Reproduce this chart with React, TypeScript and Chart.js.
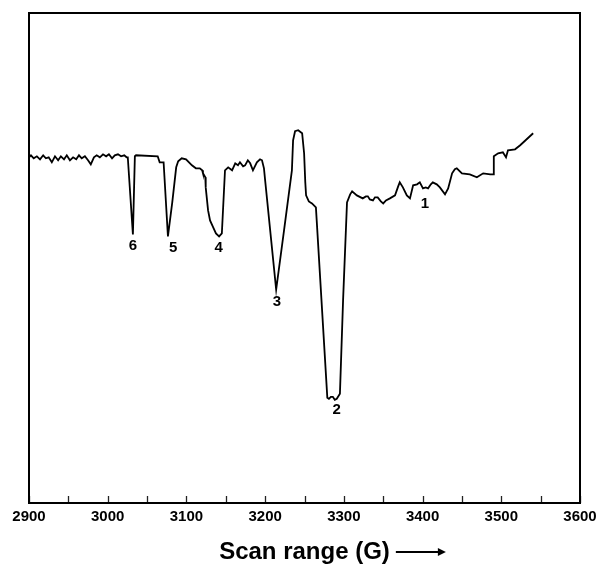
import { useEffect, useRef } from "react";
import { Chart, registerables } from "chart.js";

Chart.register(...registerables);

// Magnetic field (G)
const fieldG = [
  2900, 2902.5, 2906, 2910, 2914, 2918, 2921.5, 2925, 2929, 2933, 2937, 2940.5, 2944.5, 2948, 2952, 2956,
  2960, 2963.5, 2967, 2971, 2975, 2978.5, 2982.5, 2986, 2990, 2994, 2998, 3001.5, 3005.5, 3009, 3013, 3017,
  3021, 3024, 3025.5, 3032, 3034.5, 3036, 3063.5, 3066, 3070, 3071, 3076.5, 3082, 3087, 3089.5, 3094,
  3099.5, 3107, 3112, 3117, 3120, 3121, 3124, 3124.5, 3127.5, 3130, 3134, 3137.5, 3141.5, 3145, 3149,
  3153, 3158, 3162, 3165.5, 3168, 3172, 3174.5, 3178, 3181, 3184.5, 3189.5, 3193.5, 3196, 3198.5, 3200,
  3214, 3224, 3234, 3235.5, 3238, 3242, 3247, 3249.5, 3251, 3252, 3255.5, 3259.5, 3264.5, 3265.5, 3279,
  3281, 3283.5, 3286, 3288.5, 3291, 3295, 3299, 3304, 3308, 3310.5, 3316.5, 3324, 3328, 3330.5, 3333,
  3337, 3339.5, 3343, 3347, 3350, 3353.5, 3358.5, 3365, 3369, 3371, 3375, 3380, 3384, 3388, 3393,
  3396.5, 3400.5, 3404, 3407, 3410.5, 3413, 3418, 3422, 3428.5, 3432.5, 3437.5, 3441, 3443.5, 3450,
  3460, 3469, 3477, 3486, 3489.5, 3490.5, 3496, 3502, 3506, 3508.5, 3517.5, 3524, 3540.5,
];

// EPR signal (arbitrary units)
const signal = [
  345, 347, 344, 346, 343, 347, 344, 345, 340, 346, 342, 346, 343, 347, 342, 345,
  343, 347, 344, 346, 342, 338, 345, 347, 345, 348, 346, 348, 344, 347, 348, 346,
  347, 345, 345, 268, 346, 347, 346, 340, 340, 340, 266, 300, 335, 341, 344,
  343, 337, 334, 334, 332, 329, 325, 315, 292, 282, 275, 269, 266, 269, 332,
  335, 332, 339, 337, 340, 336, 337, 342, 339, 332, 340, 343, 342, 334, 322,
  213, 272, 332, 362, 371, 372, 369, 349, 320, 307, 301, 299, 295, 282, 105,
  104, 106, 106, 103, 104, 109, 202, 300, 308, 311, 307, 304, 306, 306, 303,
  302, 305, 305, 301, 299, 302, 304, 307, 316, 320, 315, 307, 304, 317, 318,
  320, 314, 315, 314, 318, 320, 318, 315, 308, 314, 329, 333, 334, 329,
  328, 325, 329, 328, 328, 346, 349, 350, 345, 352, 353, 357, 369,
];

// Peak annotations
const peakNames = ["1", "2", "3", "4", "5", "6"];
const peakLabelG = [3403, 3291, 3215, 3141, 3083, 3032];
const peakLabelV = [299, 93, 201, 255, 255, 257];

// Axis
const xMin = 2900;
const xMax = 3600;
const xStep = 50;
const yMin = 0;
const yMax = 489;
const xTitle = "Scan range (G)";

const FONT = "'Liberation Sans', Arial, Helvetica, sans-serif";

const decorPlugin = {
  id: "decor",
  afterDatasetsDraw(chart: any) {
    const { ctx, chartArea, scales } = chart;
    const { left, right, top, bottom } = chartArea;
    const xs = scales.x;
    const ys = scales.y;
    ctx.save();
    // inward tick marks
    ctx.strokeStyle = "#222";
    ctx.lineWidth = 1.3;
    xs.ticks.forEach((t: any) => {
      const px = Math.round(xs.getPixelForValue(t.value)) + 0.5;
      ctx.beginPath();
      ctx.moveTo(px, bottom);
      ctx.lineTo(px, bottom - 7);
      ctx.stroke();
    });
    // frame
    ctx.strokeStyle = "#000";
    ctx.lineWidth = 2;
    ctx.strokeRect(left, top, right - left, bottom - top);
    // peak labels
    ctx.fillStyle = "#000";
    ctx.font = `bold 15px ${FONT}`;
    ctx.textAlign = "center";
    ctx.textBaseline = "middle";
    peakNames.forEach((n, i) => {
      ctx.fillText(n, xs.getPixelForValue(peakLabelG[i]), ys.getPixelForValue(peakLabelV[i]));
    });
    // arrow after the axis title
    ctx.font = `bold 24px ${FONT}`;
    const w = ctx.measureText(xTitle).width;
    const cx = (left + right) / 2;
    const ay = xs.bottom - 12;
    const x0 = cx + w / 2 + 6;
    const x1 = x0 + 50;
    ctx.lineWidth = 2;
    ctx.beginPath();
    ctx.moveTo(x0, ay);
    ctx.lineTo(x1 - 4, ay);
    ctx.stroke();
    ctx.beginPath();
    ctx.moveTo(x1, ay);
    ctx.lineTo(x1 - 8, ay - 4);
    ctx.lineTo(x1 - 8, ay + 4);
    ctx.closePath();
    ctx.fill();
    ctx.restore();
  },
};

export default function App() {
  const ref = useRef<HTMLCanvasElement | null>(null);
  useEffect(() => {
    if (!ref.current) return;
    const chart = new Chart(ref.current, {
      type: "line",
      data: {
        datasets: [
          {
            data: fieldG.map((g, i) => ({ x: g, y: signal[i] })),
            borderColor: "#000",
            borderWidth: 1.8,
            pointRadius: 0,
            tension: 0,
            fill: false,
          },
        ],
      },
      options: {
        animation: false,
        responsive: false,
        maintainAspectRatio: false,
        layout: { padding: { left: 29, right: 16, top: 13, bottom: 0 } },
        plugins: { legend: { display: false }, tooltip: { enabled: false } },
        scales: {
          x: {
            type: "linear",
            min: xMin,
            max: xMax,
            grid: { display: false, drawTicks: false },
            border: { display: false },
            afterFit: (axis: any) => {
              axis.paddingLeft = 0;
              axis.paddingRight = 0;
            },
            ticks: {
              stepSize: xStep,
              autoSkip: false,
              maxRotation: 0,
              padding: 5,
              color: "#000",
              font: { family: FONT, size: 15, weight: "bold" },
              callback: (v: any) => (Number(v) % 100 === 0 ? String(v) : ""),
            },
            title: {
              display: true,
              text: xTitle,
              color: "#000",
              font: { family: FONT, size: 24, weight: "bold", lineHeight: 1 },
              padding: { top: 9, bottom: 0 },
            },
          },
          y: { display: false, min: yMin, max: yMax },
        },
      },
      plugins: [decorPlugin],
    });
    return () => chart.destroy();
  }, []);
  return (
    <div style={{ position: "fixed", left: 0, top: 0, width: 596, height: 564, background: "#fff" }}>
      <canvas ref={ref} width={596} height={564} style={{ display: "block" }} />
    </div>
  );
}
